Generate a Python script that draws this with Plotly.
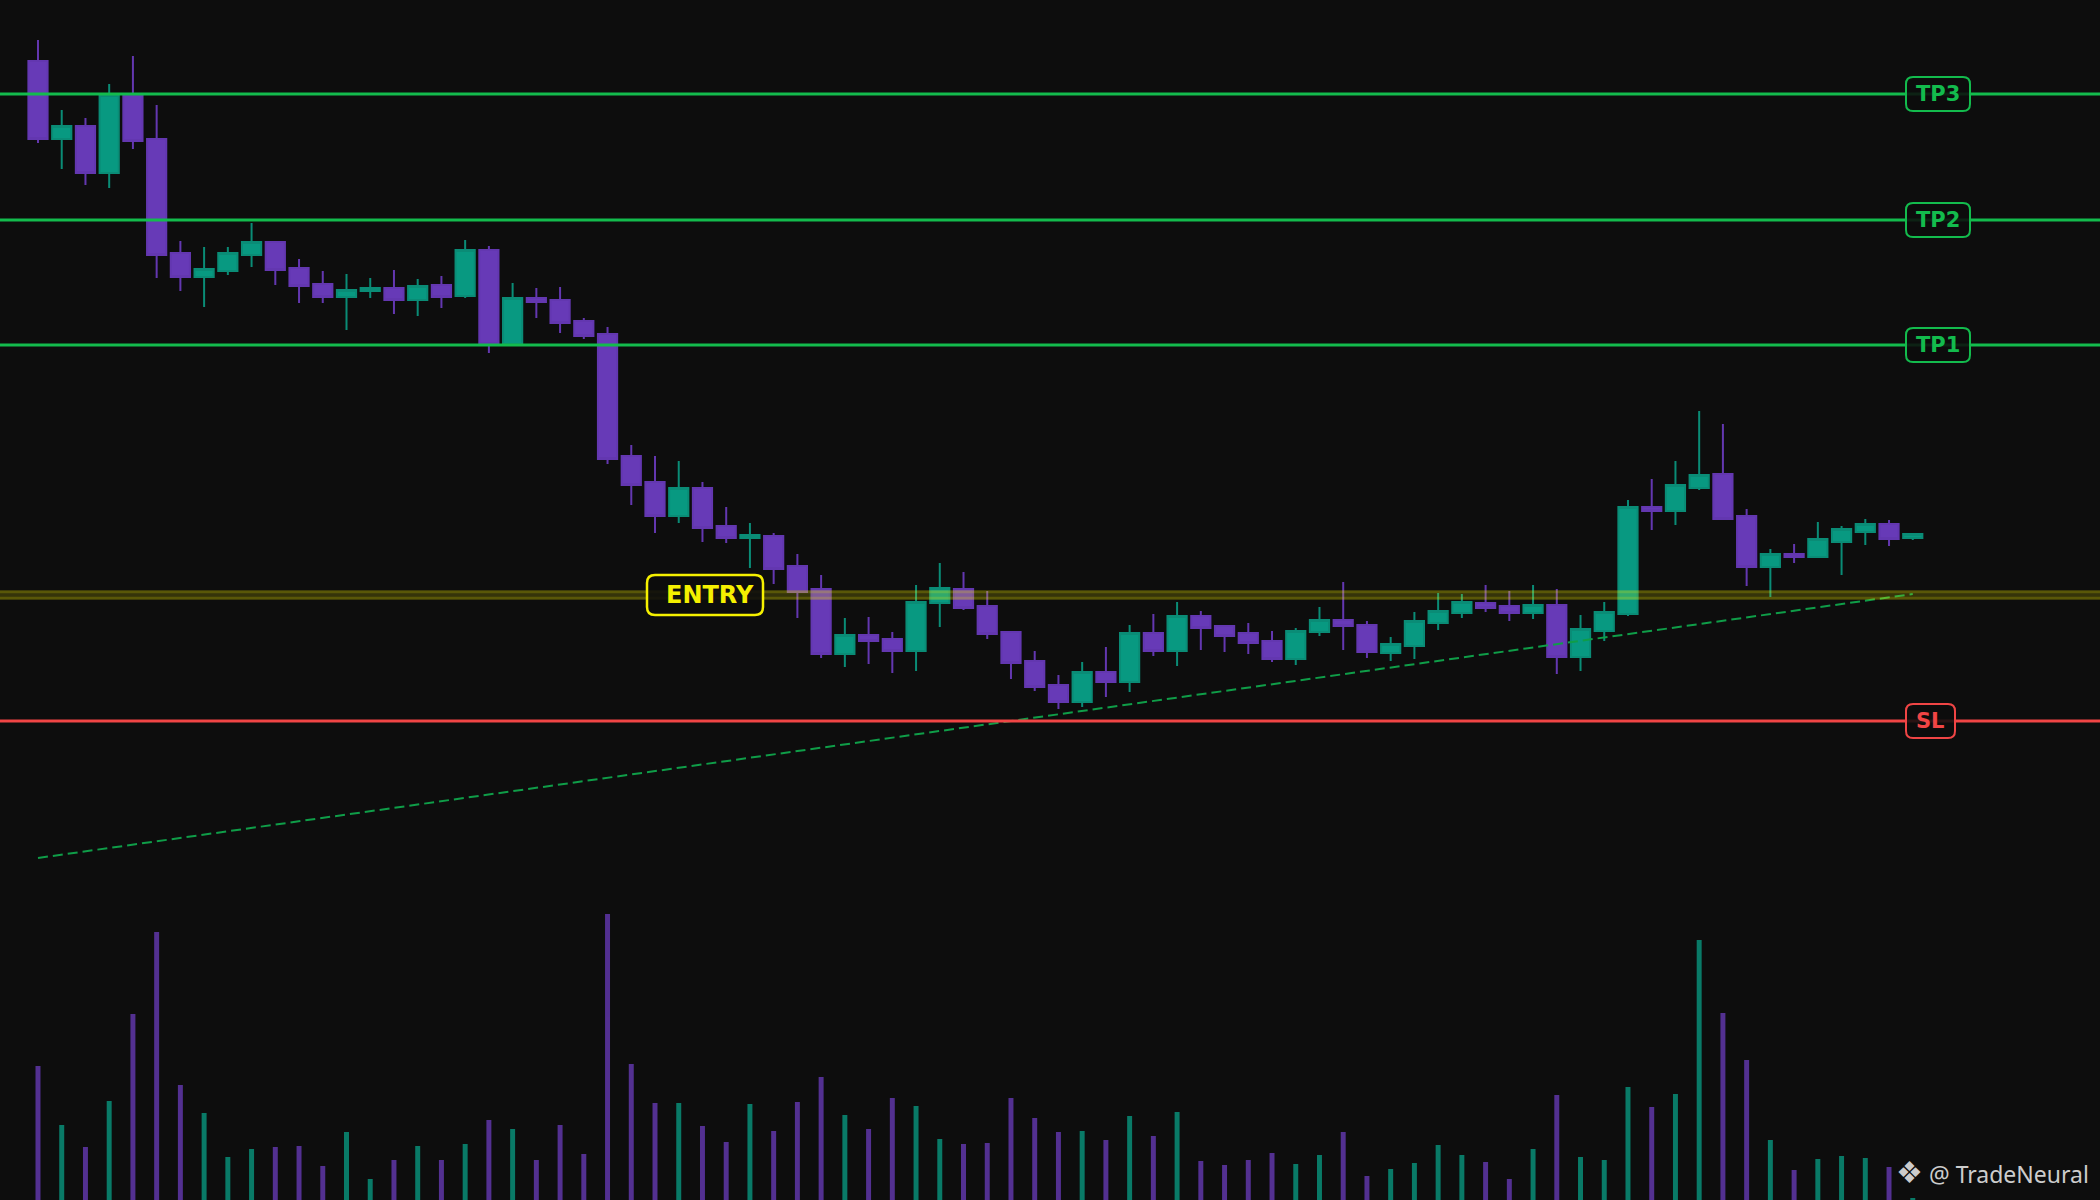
import plotly.graph_objects as go

# ---------------- data ----------------
opens = [113.9, 106.1, 107.4, 102.7, 110.5, 106.1, 94.7, 92.3, 92.9, 94.5,
         95.8, 93.2, 91.6, 90.3, 90.9, 91.2, 90.0, 91.5, 90.4, 95.0,
         85.6, 90.2, 90.0, 87.9, 86.6, 74.4, 71.8, 68.4, 71.2, 67.4,
         66.2, 66.4, 63.4, 61.1, 54.6, 56.5, 56.1, 54.9, 59.7, 61.1,
         59.4, 56.8, 53.9, 51.5, 49.8, 52.8, 51.8, 56.7, 54.9, 58.4,
         57.4, 56.7, 55.9, 54.1, 56.8, 58.0, 57.5, 54.7, 55.4, 57.7,
         58.7, 59.7, 59.4, 58.7, 59.5, 54.3, 56.9, 58.6, 69.3, 68.9,
         71.2, 72.6, 68.4, 63.3, 64.6, 64.3, 65.8, 66.8, 67.6, 66.2]
highs = [116.0, 109.0, 108.2, 111.6, 114.4, 109.5, 95.9, 95.3, 95.3, 97.7,
         95.9, 94.1, 92.9, 92.6, 92.2, 93.0, 92.1, 92.4, 96.0, 95.4,
         91.7, 91.2, 91.3, 88.2, 87.3, 75.5, 74.4, 73.9, 71.8, 69.3,
         67.7, 66.7, 64.6, 62.5, 58.2, 58.3, 56.8, 61.5, 63.7, 62.8,
         60.9, 56.9, 54.9, 52.5, 53.8, 55.3, 57.5, 58.6, 59.8, 58.9,
         57.5, 57.7, 56.9, 57.2, 59.3, 61.8, 57.9, 56.3, 58.8, 60.7,
         60.6, 61.5, 60.9, 61.5, 61.1, 58.5, 59.8, 70.0, 72.1, 73.9,
         78.9, 77.6, 69.1, 65.1, 65.6, 67.8, 67.4, 68.1, 68.0, 66.7]
lows = [105.7, 103.1, 101.5, 101.2, 105.1, 92.2, 90.9, 89.3, 92.5, 93.3,
        91.5, 89.7, 89.7, 87.0, 90.2, 88.6, 88.4, 89.2, 90.2, 84.7,
        85.4, 88.2, 86.7, 86.1, 73.6, 69.5, 66.7, 67.7, 65.8, 65.7,
        63.2, 61.6, 58.2, 54.2, 53.3, 53.6, 52.7, 52.9, 57.3, 59.0,
        56.1, 52.1, 50.9, 49.1, 49.3, 50.3, 50.8, 54.4, 53.4, 55.0,
        54.8, 54.6, 53.8, 53.5, 56.4, 55.0, 54.2, 53.9, 54.1, 57.0,
        58.2, 58.8, 57.9, 58.1, 52.6, 52.9, 55.9, 58.4, 67.0, 67.5,
        71.0, 68.0, 61.4, 60.3, 63.7, 64.3, 62.5, 65.5, 65.4, 66.0]
closes = [106.1, 107.4, 102.7, 110.5, 105.9, 94.5, 92.3, 93.1, 94.7, 95.8,
          93.0, 91.4, 90.3, 91.0, 91.2, 90.0, 91.4, 90.3, 95.0, 85.6,
          90.2, 89.8, 87.7, 86.4, 74.1, 71.5, 68.4, 71.2, 67.2, 66.2,
          66.5, 63.1, 60.8, 54.6, 56.5, 55.9, 54.9, 59.8, 61.2, 59.2,
          56.6, 53.7, 51.3, 49.8, 52.8, 51.8, 56.7, 54.9, 58.4, 57.2,
          56.4, 55.7, 54.1, 56.9, 58.0, 57.4, 54.8, 55.6, 57.9, 58.9,
          59.8, 59.2, 58.7, 59.5, 54.3, 57.1, 58.8, 69.3, 68.9, 71.5,
          72.5, 68.1, 63.3, 64.6, 64.3, 66.1, 67.1, 67.6, 66.1, 66.6]
volumes = [1340, 750, 530, 990, 1860, 2680, 1150, 870, 430, 510,
           530, 540, 340, 680, 210, 400, 540, 400, 560, 800,
           710, 400, 750, 460, 2860, 1360, 970, 970, 740, 580,
           960, 690, 980, 1230, 850, 710, 1020, 940, 610, 560,
           570, 1020, 820, 680, 690, 600, 840, 640, 880, 390,
           350, 400, 470, 360, 450, 680, 240, 310, 370, 550,
           450, 380, 210, 510, 1050, 430, 400, 1130, 930, 1060,
           2600, 1870, 1400, 600, 300, 410, 440, 420, 330, 20]
bars = list(range(len(opens)))

level_names = ["TP3", "TP2", "TP1", "SL"]
level_values = [110.6, 98.0, 85.5, 47.9]
entry_name = "ENTRY"
entry_value = 60.5
trend_x = [0, 79]
trend_y = [34.2, 60.6]
watermark = "@ TradeNeural"

# ---------------- styling ----------------
BG = "#0d0d0d"
UP = "#089981"
DOWN = "#673ab7"
TP_COLOR = "#13bb4d"
SL_COLOR = "#f04545"
ENTRY_COLOR = "#f5f000"

vol_colors = [UP if c >= o else DOWN for o, c in zip(opens, closes)]

fig = go.Figure()

fig.add_trace(go.Bar(
    x=bars, y=volumes, yaxis="y2", width=0.21,
    marker=dict(color=vol_colors, line=dict(width=0)), opacity=0.78,
    hoverinfo="skip",
))

fig.add_trace(go.Candlestick(
    x=bars, open=opens, high=highs, low=lows, close=closes,
    increasing=dict(fillcolor=UP, line=dict(color="#0a8c76", width=2)),
    decreasing=dict(fillcolor=DOWN, line=dict(color="#6337b0", width=2)),
    whiskerwidth=0,
))

fig.add_trace(go.Scatter(
    x=trend_x, y=trend_y, mode="lines",
    line=dict(color="#0f9d48", width=2, dash="10px,5px"),
    hoverinfo="skip",
))


def rounded_rect(w, h, r):
    hh = h / 2
    return (f"M {r},{-hh} L {w - r},{-hh} Q {w},{-hh} {w},{-hh + r} "
            f"L {w},{hh - r} Q {w},{hh} {w - r},{hh} L {r},{hh} "
            f"Q 0,{hh} 0,{hh - r} L 0,{-hh + r} Q 0,{-hh} {r},{-hh} Z")


shapes = []
annotations = []

# entry band
shapes.append(dict(type="line", xref="paper", x0=0, x1=1, yref="y",
                   y0=entry_value, y1=entry_value, layer="above",
                   line=dict(color="rgba(255,250,0,0.17)", width=10)))
for off in (-0.3, 0.3):
    shapes.append(dict(type="line", xref="paper", x0=0, x1=1, yref="y",
                       y0=entry_value + off, y1=entry_value + off, layer="above",
                       line=dict(color="rgba(255,250,0,0.18)", width=2.5)))

# level lines
for name, val in zip(level_names, level_values):
    col = SL_COLOR if name == "SL" else TP_COLOR
    shapes.append(dict(type="line", xref="paper", x0=0, x1=1, yref="y",
                       y0=val, y1=val, layer="above",
                       line=dict(color=col, width=3)))

# level labels
LABEL_X = 1906 / 2100
for name, val in zip(level_names, level_values):
    col = SL_COLOR if name == "SL" else TP_COLOR
    w = 49 if name == "SL" else 64
    shapes.append(dict(type="path", xref="paper", yref="y",
                       xsizemode="pixel", ysizemode="pixel",
                       xanchor=LABEL_X, yanchor=val,
                       path=rounded_rect(w, 34, 7), layer="above",
                       fillcolor="rgba(13,13,13,0.88)",
                       line=dict(color=col, width=2)))
    annotations.append(dict(xref="paper", yref="y", x=LABEL_X, y=val,
                            xshift=w / 2, xanchor="center", yanchor="middle",
                            text=f"<b>{name}</b>", showarrow=False,
                            font=dict(family="DejaVu Sans", size=21, color=col)))

# entry label
ENTRY_X = 647 / 2100
shapes.append(dict(type="path", xref="paper", yref="y",
                   xsizemode="pixel", ysizemode="pixel",
                   xanchor=ENTRY_X, yanchor=entry_value,
                   path=rounded_rect(116, 40, 8), layer="above",
                   fillcolor="rgba(13,13,13,0.88)",
                   line=dict(color=ENTRY_COLOR, width=2.5)))
annotations.append(dict(xref="paper", yref="y", x=ENTRY_X, y=entry_value,
                        xshift=63, xanchor="center", yanchor="middle",
                        text=f"<b>{entry_name}</b>", showarrow=False,
                        font=dict(family="DejaVu Sans", size=24, color=ENTRY_COLOR)))

# watermark
annotations.append(dict(xref="paper", yref="paper", x=2091 / 2100, y=0.0235,
                        xanchor="right", yanchor="middle", showarrow=False,
                        text="<span style='font-size:30px'>❖</span> " + watermark,
                        font=dict(family="Noto Sans", size=23, color="#cccccc")))

fig.update_layout(
    width=2100, height=1200,
    margin=dict(l=0, r=0, t=0, b=0),
    paper_bgcolor=BG, plot_bgcolor=BG,
    showlegend=False,
    boxgap=0.19, boxgroupgap=0,
    xaxis=dict(range=[-1.601, 86.89], visible=False, rangeslider=dict(visible=False),
               fixedrange=True),
    yaxis=dict(range=[0, 120], visible=False, fixedrange=True),
    yaxis2=dict(range=[0, 12000], visible=False, overlaying="y", fixedrange=True),
    shapes=shapes,
    annotations=annotations,
)

fig.write_html("out.html", config={"displayModeBar": False},
               post_script="document.body.style.margin='0';")
